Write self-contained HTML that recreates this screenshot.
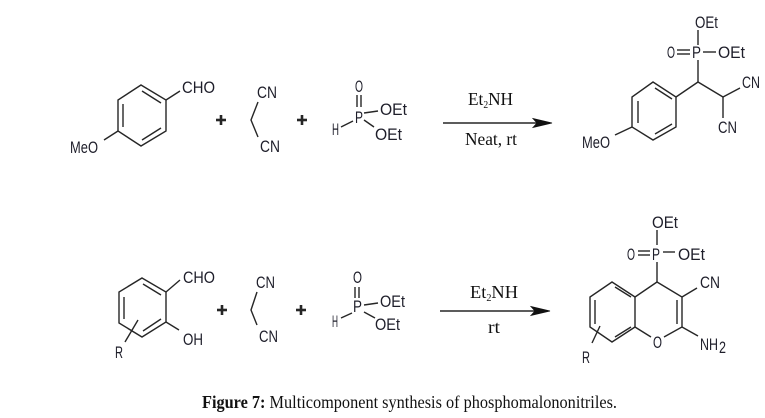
<!DOCTYPE html>
<html><head><meta charset="utf-8"><style>
html,body{margin:0;padding:0;background:#fff;}
svg{display:block;}
.l{font-family:"Liberation Sans",sans-serif;font-size:16.5px;fill:#1e1e2a;}
.s{font-family:"Liberation Serif",serif;font-size:18px;fill:#111;}
line,polyline,polygon.r{stroke:#262626;stroke-width:1.4;fill:none;}
</style></head><body>
<svg width="765" height="418" viewBox="0 0 765 418" xmlns="http://www.w3.org/2000/svg">
<!-- ===== TOP ROW ===== -->
<polygon class="r" points="141,85 166,100 166,131 141,146 118,131 118,100"/>
<line x1="123" y1="104" x2="123" y2="127"/>
<line x1="142" y1="91" x2="161" y2="103"/>
<line x1="161" y1="128" x2="142" y2="140"/>
<line x1="166" y1="100" x2="180" y2="91"/>
<text class="l" x="182" y="93" textLength="33" lengthAdjust="spacingAndGlyphs">CHO</text>
<line x1="118" y1="131" x2="104" y2="140"/>
<text class="l" x="70" y="153" textLength="28" lengthAdjust="spacingAndGlyphs">MeO</text>
<line x1="216" y1="120" x2="226" y2="120" style="stroke-width:2.6"/>
<line x1="221" y1="115" x2="221" y2="125" style="stroke-width:2.6"/>
<text class="l" x="257" y="98" textLength="20" lengthAdjust="spacingAndGlyphs">CN</text>
<polyline points="258,102 251,120 258,137"/>
<text class="l" x="260" y="152" textLength="20" lengthAdjust="spacingAndGlyphs">CN</text>
<line x1="297" y1="120" x2="307" y2="120" style="stroke-width:2.6"/>
<line x1="302" y1="115" x2="302" y2="125" style="stroke-width:2.6"/>
<text class="l" x="355" y="92" textLength="8" lengthAdjust="spacingAndGlyphs">O</text>
<line x1="357" y1="95" x2="357" y2="107"/>
<line x1="361" y1="95" x2="361" y2="107"/>
<text class="l" x="355" y="123" textLength="8" lengthAdjust="spacingAndGlyphs">P</text>
<text class="l" x="332" y="135" textLength="7" lengthAdjust="spacingAndGlyphs">H</text>
<line x1="341" y1="127" x2="353" y2="121"/>
<line x1="364" y1="113" x2="378" y2="111"/>
<text class="l" x="380" y="115" textLength="27" lengthAdjust="spacingAndGlyphs">OEt</text>
<line x1="364" y1="120" x2="374" y2="127"/>
<text class="l" x="375" y="140" textLength="27" lengthAdjust="spacingAndGlyphs">OEt</text>
<!-- arrow 1 -->
<line x1="443" y1="123" x2="537" y2="123"/>
<polygon points="533,118.5 552,123 533,127.5 537,123" fill="#111" stroke="#111" stroke-width="0.8"/>
<text class="s" x="468" y="105" textLength="45" lengthAdjust="spacingAndGlyphs">Et<tspan font-size="10" dy="3">2</tspan><tspan dy="-3">NH</tspan></text>
<text class="s" x="465" y="145" textLength="52" lengthAdjust="spacingAndGlyphs">Neat, rt</text>
<!-- product 1 -->
<polygon class="r" points="653,82 676,97 676,127 653,140 632,127 632,97"/>
<line x1="638" y1="101" x2="638" y2="123"/>
<line x1="655" y1="88" x2="672" y2="99"/>
<line x1="672" y1="124" x2="655" y2="134"/>
<line x1="632" y1="127" x2="615" y2="135"/>
<text class="l" x="582" y="148" textLength="28" lengthAdjust="spacingAndGlyphs">MeO</text>
<polyline points="676,97 698,82 723,97"/>
<line x1="698" y1="82" x2="698" y2="60"/>
<text class="l" x="692" y="58" textLength="9" lengthAdjust="spacingAndGlyphs">P</text>
<line x1="698" y1="30" x2="698" y2="45"/>
<text class="l" x="695" y="28" textLength="23" lengthAdjust="spacingAndGlyphs">OEt</text>
<text class="l" x="667" y="58" textLength="8" lengthAdjust="spacingAndGlyphs">O</text>
<line x1="677" y1="50" x2="690" y2="50"/>
<line x1="677" y1="54" x2="690" y2="54"/>
<line x1="703" y1="52" x2="716" y2="52"/>
<text class="l" x="718" y="58" textLength="27" lengthAdjust="spacingAndGlyphs">OEt</text>
<line x1="723" y1="97" x2="740" y2="88"/>
<text class="l" x="742" y="88" textLength="18" lengthAdjust="spacingAndGlyphs">CN</text>
<line x1="723" y1="97" x2="723" y2="118"/>
<text class="l" x="718" y="133" textLength="19" lengthAdjust="spacingAndGlyphs">CN</text>

<!-- ===== BOTTOM ROW ===== -->
<polygon class="r" points="142,278 166,292 166,322 142,337 119,323 119,292"/>
<line x1="124" y1="297" x2="124" y2="319"/>
<line x1="143" y1="284" x2="161" y2="295"/>
<line x1="161" y1="319" x2="143" y2="331"/>
<line x1="166" y1="292" x2="180" y2="280"/>
<text class="l" x="183" y="283" textLength="32" lengthAdjust="spacingAndGlyphs">CHO</text>
<line x1="166" y1="322" x2="179" y2="330"/>
<text class="l" x="183" y="345" textLength="20" lengthAdjust="spacingAndGlyphs">OH</text>
<line x1="138" y1="320" x2="125" y2="342"/>
<text class="l" x="115" y="358" textLength="8" lengthAdjust="spacingAndGlyphs">R</text>
<line x1="217" y1="310" x2="227" y2="310" style="stroke-width:2.6"/>
<line x1="222" y1="305" x2="222" y2="315" style="stroke-width:2.6"/>
<text class="l" x="256" y="288" textLength="19" lengthAdjust="spacingAndGlyphs">CN</text>
<polyline points="257,292 251,310 257,325"/>
<text class="l" x="259" y="342" textLength="19" lengthAdjust="spacingAndGlyphs">CN</text>
<line x1="296" y1="310" x2="306" y2="310" style="stroke-width:2.6"/>
<line x1="301" y1="305" x2="301" y2="315" style="stroke-width:2.6"/>
<text class="l" x="353" y="283" textLength="9" lengthAdjust="spacingAndGlyphs">O</text>
<line x1="355" y1="287" x2="355" y2="298"/>
<line x1="359" y1="287" x2="359" y2="298"/>
<text class="l" x="353" y="312" textLength="9" lengthAdjust="spacingAndGlyphs">P</text>
<text class="l" x="332" y="327" textLength="6" lengthAdjust="spacingAndGlyphs">H</text>
<line x1="341" y1="318" x2="352" y2="313"/>
<line x1="364" y1="305" x2="378" y2="303"/>
<text class="l" x="380" y="307" textLength="25" lengthAdjust="spacingAndGlyphs">OEt</text>
<line x1="364" y1="312" x2="375" y2="318"/>
<text class="l" x="375" y="330" textLength="25" lengthAdjust="spacingAndGlyphs">OEt</text>
<!-- arrow 2 -->
<line x1="440" y1="311" x2="535" y2="311"/>
<polygon points="531,306.5 550,311 531,315.5 535,311" fill="#111" stroke="#111" stroke-width="0.8"/>
<text class="s" x="470" y="298" textLength="48" lengthAdjust="spacingAndGlyphs">Et<tspan font-size="10" dy="3">2</tspan><tspan dy="-3">NH</tspan></text>
<text class="s" x="488" y="333" textLength="12" lengthAdjust="spacingAndGlyphs">rt</text>
<!-- product 2 -->
<polyline points="651,337 635,327 635,297 657,282 682,297 682,327 664,337"/>
<polyline points="635,297 612,282 590,297 590,327 612,342 635,327"/>
<line x1="595" y1="300" x2="595" y2="324"/>
<line x1="615" y1="287" x2="631" y2="297"/>
<line x1="615" y1="337" x2="631" y2="327"/>
<line x1="677" y1="300" x2="677" y2="324"/>
<text class="l" x="653" y="348" textLength="9" lengthAdjust="spacingAndGlyphs">O</text>
<line x1="657" y1="282" x2="657" y2="262"/>
<text class="l" x="652" y="260" textLength="8" lengthAdjust="spacingAndGlyphs">P</text>
<line x1="657" y1="230" x2="657" y2="245"/>
<text class="l" x="652" y="228" textLength="26" lengthAdjust="spacingAndGlyphs">OEt</text>
<text class="l" x="627" y="260" textLength="8" lengthAdjust="spacingAndGlyphs">O</text>
<line x1="638" y1="251" x2="650" y2="251"/>
<line x1="638" y1="255" x2="650" y2="255"/>
<line x1="663" y1="252" x2="675" y2="252"/>
<text class="l" x="678" y="260" textLength="27" lengthAdjust="spacingAndGlyphs">OEt</text>
<line x1="682" y1="297" x2="697" y2="288"/>
<text class="l" x="700" y="288" textLength="20" lengthAdjust="spacingAndGlyphs">CN</text>
<line x1="682" y1="327" x2="698" y2="336"/>
<text class="l" x="700" y="350" textLength="18" lengthAdjust="spacingAndGlyphs">NH</text>
<text class="l" x="719" y="353" font-size="12" textLength="7" lengthAdjust="spacingAndGlyphs">2</text>
<line x1="600" y1="326" x2="592" y2="343"/>
<text class="l" x="582" y="363" textLength="8" lengthAdjust="spacingAndGlyphs">R</text>

<!-- caption -->
<text class="s" x="202" y="408" font-size="15" textLength="415" lengthAdjust="spacingAndGlyphs"><tspan font-weight="bold">Figure 7:</tspan> Multicomponent synthesis of phosphomalononitriles.</text>
</svg>
</body></html>
